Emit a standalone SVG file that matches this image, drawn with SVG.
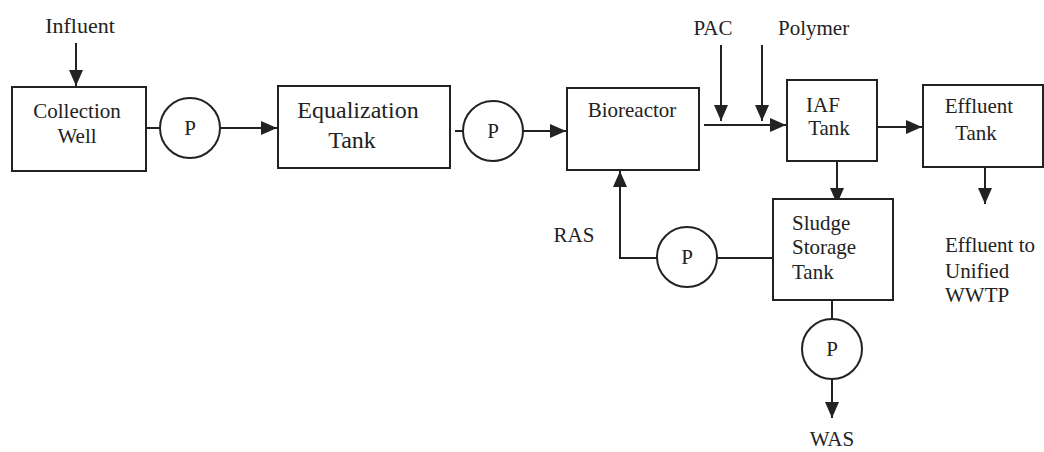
<svg xmlns="http://www.w3.org/2000/svg" width="1044" height="452" viewBox="0 0 1044 452">
<style>
.box{fill:#fff;stroke:#222;stroke-width:2}
.pump{fill:#fff;stroke:#222;stroke-width:2}
.ln{fill:none;stroke:#222;stroke-width:2}
text{font-family:"Liberation Serif","Times New Roman",serif;font-size:21px;fill:#222}
.big{font-size:24px}
.c{text-anchor:middle}
</style>
<defs>
<marker id="ah" markerWidth="16" markerHeight="14" refX="16" refY="7" orient="auto" markerUnits="userSpaceOnUse">
<path d="M0,0 L16,7 L0,14 Z" fill="#222"/>
</marker>
</defs>
<rect width="1044" height="452" fill="#fff"/>
<g id="connectors">
<line class="ln" x1="76" y1="43" x2="76" y2="86" marker-end="url(#ah)"/>
<line class="ln" x1="146" y1="128" x2="160" y2="128"/>
<line class="ln" x1="220" y1="128" x2="277" y2="128" marker-end="url(#ah)"/>
<line class="ln" x1="455" y1="131" x2="463" y2="131"/>
<line class="ln" x1="523" y1="131" x2="566" y2="131" marker-end="url(#ah)"/>
<line class="ln" x1="704" y1="125" x2="786" y2="125" marker-end="url(#ah)"/>
<line class="ln" x1="721" y1="45" x2="721" y2="121" marker-end="url(#ah)"/>
<line class="ln" x1="762" y1="45" x2="762" y2="121" marker-end="url(#ah)"/>
<line class="ln" x1="877" y1="127" x2="922" y2="127" marker-end="url(#ah)"/>
<line class="ln" x1="985" y1="167" x2="985" y2="204" marker-end="url(#ah)"/>
<line class="ln" x1="837" y1="161" x2="837" y2="204" marker-end="url(#ah)"/>
<line class="ln" x1="717" y1="258" x2="773" y2="258"/>
<polyline class="ln" points="657,258 620,258 620,171" marker-end="url(#ah)"/>
<line class="ln" x1="832" y1="300" x2="832" y2="319"/>
<line class="ln" x1="832" y1="379" x2="832" y2="418" marker-end="url(#ah)"/>
</g>
<g id="collection-well">
<rect class="box" x="12" y="87" width="134" height="84"/>
<text class="c" x="77" y="118">Collection</text>
<text class="c" x="77" y="143">Well</text>
</g>
<g id="pump1">
<circle class="pump" cx="190" cy="128" r="30"/>
<text class="c" x="190" y="135">P</text>
</g>
<g id="equalization-tank">
<rect class="box" x="278" y="86" width="172" height="82"/>
<text class="c big" x="358" y="118">Equalization</text>
<text class="c big" x="352" y="148">Tank</text>
</g>
<g id="pump2">
<circle class="pump" cx="493" cy="131" r="30"/>
<text class="c" x="493" y="138">P</text>
</g>
<g id="bioreactor">
<rect class="box" x="567" y="88" width="132" height="82"/>
<text class="c" x="632" y="117">Bioreactor</text>
</g>
<g id="iaf-tank">
<rect class="box" x="787" y="80" width="90" height="81"/>
<text class="c" x="823" y="112">IAF</text>
<text class="c" x="829" y="135">Tank</text>
</g>
<g id="effluent-tank">
<rect class="box" x="923" y="85" width="120" height="82"/>
<text class="c" x="979" y="113">Effluent</text>
<text class="c" x="976" y="140">Tank</text>
</g>
<g id="sludge-storage-tank">
<rect class="box" x="773" y="199" width="120" height="101"/>
<text x="792" y="230">Sludge</text>
<text x="792" y="254">Storage</text>
<text x="792" y="279">Tank</text>
</g>
<g id="pump3">
<circle class="pump" cx="687" cy="257" r="30"/>
<text class="c" x="687" y="264">P</text>
</g>
<g id="pump4">
<circle class="pump" cx="832" cy="349" r="30"/>
<text class="c" x="832" y="356">P</text>
</g>
<g id="labels">
<text class="c" x="80" y="33" style="font-size:22px">Influent</text>
<text class="c" x="713" y="35">PAC</text>
<text x="778" y="35">Polymer</text>
<text class="c" x="574" y="242">RAS</text>
<text x="945" y="252">Effluent to</text>
<text x="945" y="278">Unified</text>
<text x="945" y="302">WWTP</text>
<text class="c" x="832" y="446">WAS</text>
</g>
</svg>
